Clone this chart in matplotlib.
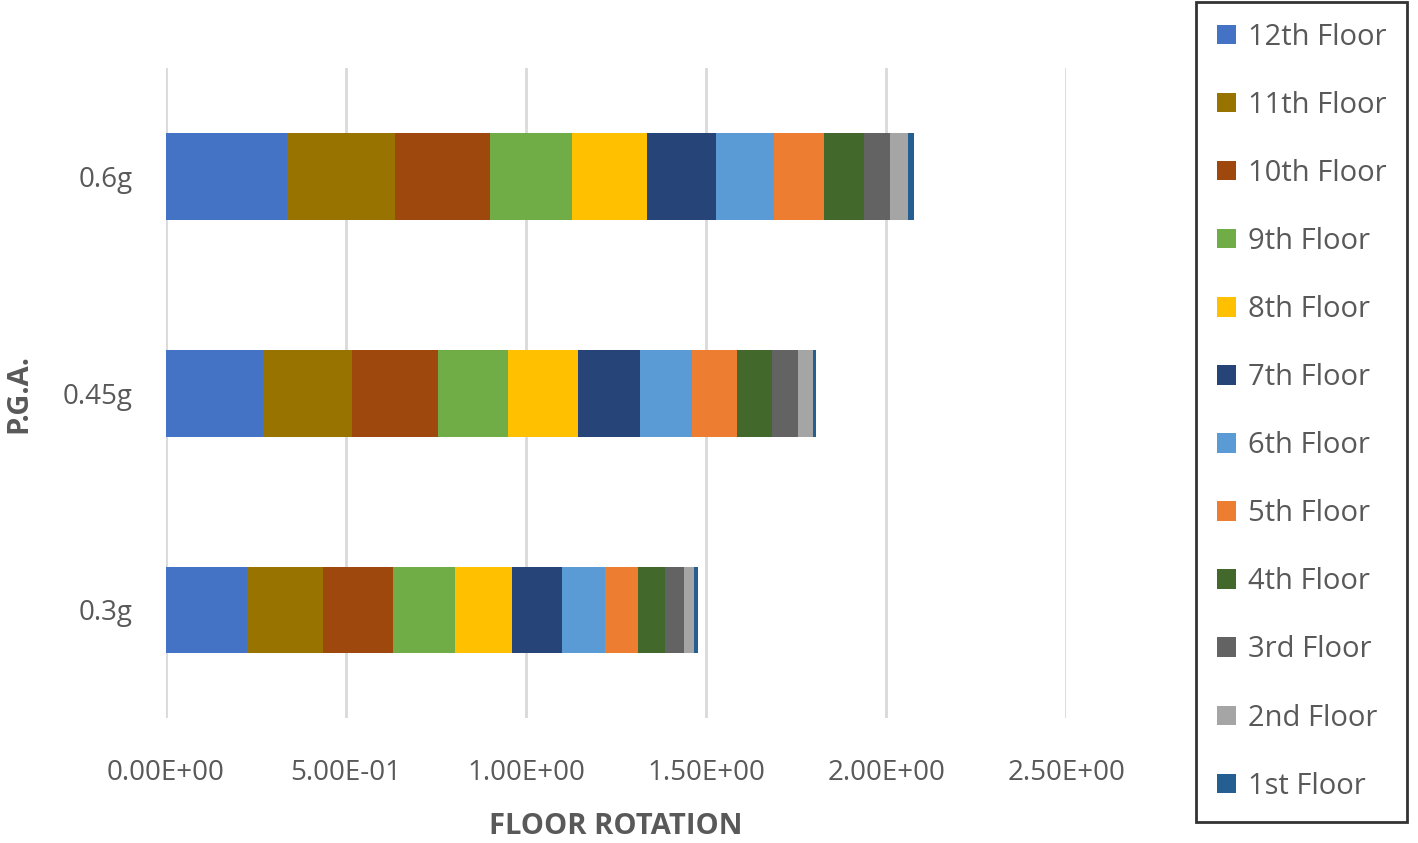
import matplotlib.pyplot as plt
import numpy as np

plt.rcParams['font.family'] = ['Open Sans', 'DejaVu Sans']

pga = ["0.3g", "0.45g", "0.6g"]
floors = ["12th Floor", "11th Floor", "10th Floor", "9th Floor", "8th Floor",
          "7th Floor", "6th Floor", "5th Floor", "4th Floor", "3rd Floor",
          "2nd Floor", "1st Floor"]
colors = ["#4472C4", "#997300", "#9E480E", "#70AD47", "#FFC000", "#264478",
          "#5B9BD5", "#ED7D31", "#43682B", "#636363", "#A5A5A5", "#255E91"]

# rotation per floor, one list per floor in order 0.3g, 0.45g, 0.6g
rot_12 = [0.226, 0.270, 0.335]
rot_11 = [0.210, 0.247, 0.301]
rot_10 = [0.195, 0.238, 0.264]
rot_9 = [0.172, 0.194, 0.227]
rot_8 = [0.157, 0.195, 0.210]
rot_7 = [0.140, 0.171, 0.190]
rot_6 = [0.119, 0.146, 0.162]
rot_5 = [0.091, 0.125, 0.139]
rot_4 = [0.076, 0.098, 0.109]
rot_3 = [0.053, 0.070, 0.074]
rot_2 = [0.028, 0.042, 0.049]
rot_1 = [0.010, 0.010, 0.016]
series = [rot_12, rot_11, rot_10, rot_9, rot_8, rot_7,
          rot_6, rot_5, rot_4, rot_3, rot_2, rot_1]

fig = plt.figure(figsize=(14.18, 8.43), dpi=100)
ax = fig.add_axes([0.117, 0.148, 0.635, 0.771])

y = np.arange(len(pga))
left = np.zeros(len(pga))
for name, vals, c in zip(floors, series, colors):
    ax.barh(y, vals, left=left, height=0.4, color=c, label=name, zorder=3)
    left += np.array(vals)

ax.set_xlim(0, 2.5)
ax.set_ylim(-0.5, 2.5)
ax.set_xticks(np.arange(0, 2.51, 0.5))
ax.set_xticklabels([f"{v:.2E}" for v in np.arange(0, 2.51, 0.5)])
ax.set_yticks(y)
ax.set_yticklabels(pga)
ax.tick_params(length=0, labelsize=20, colors="#595959")
ax.tick_params(axis="y", pad=24)
ax.tick_params(axis="x", pad=29)
ax.xaxis.grid(True, color="#D9D9D9", linewidth=2, zorder=0)
for s in ax.spines.values():
    s.set_visible(False)

ax.set_xlabel("FLOOR ROTATION", fontsize=21, fontweight="bold", color="#595959", labelpad=18)
fig.text(0.013, 0.533, "P.G.A.", rotation=90, fontsize=21, fontweight="bold",
         color="#595959", ha="center", va="center")

leg = fig.legend(loc="upper left", bbox_to_anchor=(0.8435, 0.998), frameon=True,
                 fancybox=False, fontsize=21, labelcolor="#595959",
                 handlelength=0.65, handleheight=0.65, handletextpad=0.4,
                 labelspacing=1.34, borderpad=0.72, borderaxespad=0)
leg.get_frame().set_edgecolor("black")
leg.get_frame().set_linewidth(2)

fig.savefig("out.png", dpi=100)
